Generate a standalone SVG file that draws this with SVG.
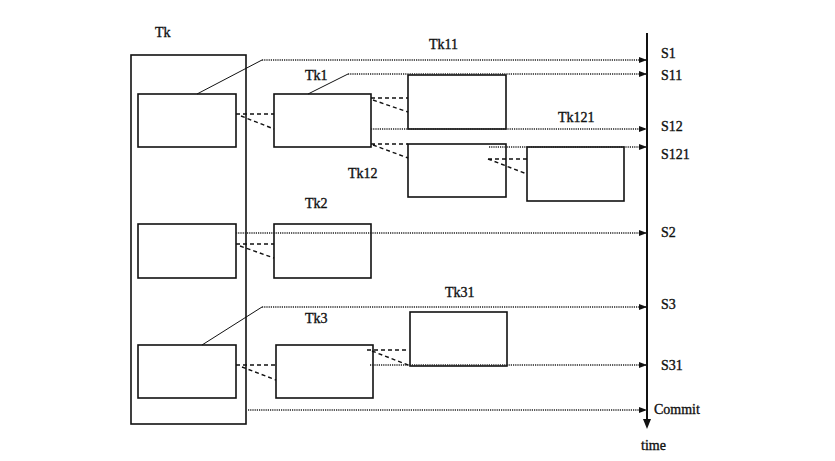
<svg xmlns="http://www.w3.org/2000/svg" width="835" height="461" viewBox="0 0 835 461">
  <defs>
    <marker id="arr" viewBox="0 0 8 6" refX="8" refY="3" markerWidth="8" markerHeight="6" markerUnits="userSpaceOnUse" orient="auto">
      <path d="M0,0 L8,3 L0,6 Z" fill="#111"/>
    </marker>
  </defs>
  <style>
    .box { fill: #fff; stroke: #111; stroke-width: 1.6; }
    .outer { fill: none; stroke: #111; stroke-width: 1.6; }
    .dot { fill: none; stroke: #222; stroke-width: 1.4; stroke-dasharray: 1.2 1; }
    .dash { fill: none; stroke: #111; stroke-width: 1.4; stroke-dasharray: 4 3; }
    .lead { fill: none; stroke: #111; stroke-width: 1; }
    .axis { fill: none; stroke: #111; stroke-width: 2; }
    text { font-family: "Liberation Serif", "Times New Roman", serif; font-size: 14px; fill: #111; stroke: #111; stroke-width: 0.35; }
  </style>
  <rect width="835" height="461" fill="#fff"/>

  <!-- time axis -->
  <g id="axis">
    <line class="axis" x1="647" y1="33" x2="647" y2="420"/>
    <path d="M643,419 L651,419 L647,429 Z" fill="#111"/>
    <text x="641" y="450">time</text>
  </g>

  <!-- transaction Tk and its subtransaction slots -->
  <g id="tk">
    <rect class="outer" x="131" y="55" width="115" height="369"/>
    <text x="155" y="37">Tk</text>
  </g>
  <g id="tk-slot1"><rect class="box" x="138" y="94" width="98" height="53"/></g>
  <g id="tk-slot2"><rect class="box" x="138" y="224" width="98" height="54"/></g>
  <g id="tk-slot3"><rect class="box" x="138" y="345" width="98" height="53"/></g>

  <g id="tk1">
    <rect class="box" x="274" y="94" width="97" height="53"/>
    <text x="305" y="80">Tk1</text>
  </g>
  <g id="tk11">
    <rect class="box" x="408" y="75" width="98" height="54"/>
    <text x="429" y="49">Tk11</text>
  </g>
  <g id="tk12">
    <rect class="box" x="408" y="144" width="98" height="53"/>
    <text x="348" y="178">Tk12</text>
  </g>
  <g id="tk121">
    <rect class="box" x="527" y="147" width="97" height="54"/>
    <text x="558" y="122">Tk121</text>
  </g>
  <g id="tk2">
    <rect class="box" x="274" y="224" width="97" height="54"/>
    <text x="305" y="208">Tk2</text>
  </g>
  <g id="tk3">
    <rect class="box" x="276" y="345" width="97" height="53"/>
    <text x="305" y="323">Tk3</text>
  </g>
  <g id="tk31">
    <rect class="box" x="410" y="312" width="97" height="54"/>
    <text x="445" y="297">Tk31</text>
  </g>

  <!-- state labels on the time axis -->
  <g id="states">
    <text x="661" y="58">S1</text>
    <text x="661" y="80">S11</text>
    <text x="661" y="131">S12</text>
    <text x="661" y="159">S121</text>
    <text x="661" y="237">S2</text>
    <text x="661" y="309">S3</text>
    <text x="661" y="370">S31</text>
    <text x="654" y="414">Commit</text>
  </g>

  <g id="connectors">
    <!-- spawn links (dashed) -->
    <path class="dash" d="M236,114 H274 M241,116 L274,129"/>
    <path class="dash" d="M371,98 H408 M373,100 L408,112"/>
    <path class="dash" d="M371,144 H408 M373,145 L408,158"/>
    <path class="dash" d="M488,159 H527 M488,159 L527,174"/>
    <path class="dash" d="M236,244 H274 M240,246 L274,258"/>
    <path class="dash" d="M236,365 H276 M242,367 L276,380"/>
    <path class="dash" d="M367,350 H408 M372,351 L408,365"/>

    <!-- leader lines -->
    <path class="lead" d="M197,94 L262,60"/>
    <path class="lead" d="M308,94 L348,74"/>
    <path class="lead" d="M202,345 L262,307"/>

    <!-- completion lines to the axis (dotted) -->
    <line class="dot" x1="262" y1="60" x2="647" y2="60" marker-end="url(#arr)"/>
    <line class="dot" x1="348" y1="74" x2="647" y2="74" marker-end="url(#arr)"/>
    <line class="dot" x1="371" y1="129" x2="647" y2="129" marker-end="url(#arr)"/>
    <line class="dot" x1="489" y1="147" x2="647" y2="147" marker-end="url(#arr)"/>
    <line class="dot" x1="236" y1="233" x2="647" y2="233" marker-end="url(#arr)"/>
    <line class="dot" x1="262" y1="307" x2="647" y2="307" marker-end="url(#arr)"/>
    <line class="dot" x1="370" y1="365" x2="647" y2="365" marker-end="url(#arr)"/>
    <line class="dot" x1="248" y1="410" x2="647" y2="410" marker-end="url(#arr)"/>
  </g>
</svg>
